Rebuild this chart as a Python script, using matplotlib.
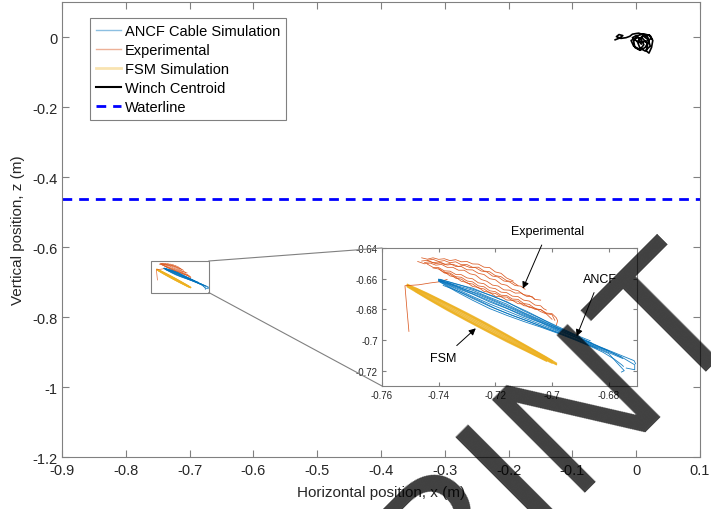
import matplotlib
matplotlib.use("Agg")
import matplotlib.pyplot as plt
from matplotlib.lines import Line2D
from matplotlib.patches import Rectangle, ConnectionPatch

plt.rcParams['font.family'] = ['Liberation Sans', 'DejaVu Sans']
plt.rcParams['axes.unicode_minus'] = False

# ---------------- data ----------------
main_xticks = [-0.9, -0.8, -0.7, -0.6, -0.5, -0.4, -0.3, -0.2, -0.1, 0, 0.1]
main_yticks = [-1.2, -1.0, -0.8, -0.6, -0.4, -0.2, 0]
inset_xticks = [-0.76, -0.74, -0.72, -0.70, -0.68]
inset_yticks = [-0.72, -0.70, -0.68, -0.66, -0.64]

waterline_z = -0.463

ancf_x = [
    [-0.740, -0.734, -0.728, -0.722, -0.716, -0.710, -0.704, -0.698, -0.692],
    [-0.740, -0.734, -0.728, -0.722, -0.716, -0.710, -0.704, -0.698, -0.692, -0.686],
    [-0.740, -0.734, -0.728, -0.722, -0.716, -0.710, -0.704, -0.698, -0.692, -0.686, -0.680],
    [-0.740, -0.734, -0.728, -0.722, -0.716, -0.710, -0.704, -0.698, -0.692, -0.686, -0.680, -0.675, -0.6708, -0.6708, -0.6738],
    [-0.740, -0.734, -0.728, -0.722, -0.716, -0.710, -0.704, -0.698, -0.692, -0.686, -0.680, -0.675],
    [-0.740, -0.734, -0.728, -0.722, -0.716, -0.710, -0.704, -0.698, -0.692, -0.686, -0.680, -0.677, -0.6745, -0.6755],
    [-0.740, -0.734, -0.728, -0.722, -0.716, -0.710, -0.704, -0.698, -0.692, -0.686, -0.682, -0.678, -0.6755, -0.6748],
    [-0.737, -0.731, -0.725, -0.719, -0.713, -0.707, -0.701, -0.695, -0.689, -0.683, -0.677, -0.671, -0.6705],
    [-0.7384, -0.732, -0.726, -0.720, -0.714, -0.708, -0.702, -0.696, -0.690, -0.684],
    [-0.7395, -0.733, -0.727, -0.721, -0.715, -0.709, -0.703, -0.697, -0.691, -0.6865],
    [-0.739, -0.733, -0.727, -0.721, -0.715, -0.709, -0.703, -0.697, -0.691, -0.685, -0.679, -0.6755],
]
ancf_y = [
    [-0.6603, -0.6635, -0.6662, -0.6708, -0.6750, -0.6810, -0.6860, -0.6918, -0.6965],
    [-0.6606, -0.6643, -0.6676, -0.6722, -0.6766, -0.6821, -0.6869, -0.6924, -0.6970, -0.7020],
    [-0.6608, -0.6649, -0.6690, -0.6735, -0.6782, -0.6831, -0.6880, -0.6929, -0.6978, -0.7024, -0.7070],
    [-0.6610, -0.6659, -0.6701, -0.6752, -0.6794, -0.6845, -0.6887, -0.6938, -0.6981, -0.7031, -0.7074, -0.7116, -0.7162, -0.7194, -0.7183],
    [-0.6612, -0.6665, -0.6716, -0.6765, -0.6810, -0.6855, -0.6898, -0.6943, -0.6988, -0.7034, -0.7082, -0.7121],
    [-0.6615, -0.6674, -0.6729, -0.6780, -0.6825, -0.6867, -0.6907, -0.6950, -0.6994, -0.7040, -0.7088, -0.7150, -0.7200, -0.7209],
    [-0.6617, -0.6682, -0.6741, -0.6795, -0.6839, -0.6879, -0.6916, -0.6956, -0.6999, -0.7045, -0.7080, -0.7125, -0.7160, -0.7172],
    [-0.6625, -0.6668, -0.6705, -0.6752, -0.6800, -0.6850, -0.6898, -0.6945, -0.6995, -0.7045, -0.7090, -0.7135, -0.7155],
    [-0.6644, -0.6690, -0.6740, -0.6795, -0.6840, -0.6880, -0.6925, -0.6965, -0.7010, -0.7055],
    [-0.6604, -0.6638, -0.6675, -0.6712, -0.6762, -0.6812, -0.6868, -0.6920, -0.6972, -0.7005],
    [-0.6616, -0.6660, -0.6706, -0.6752, -0.6800, -0.6846, -0.6892, -0.6940, -0.6985, -0.7032, -0.7080, -0.7110],
]

exp_x = [
    [-0.746, -0.744, -0.742, -0.740, -0.738, -0.736, -0.734, -0.732, -0.730, -0.728, -0.726, -0.724, -0.722, -0.720, -0.718, -0.716, -0.7137],
    [-0.745, -0.743, -0.741, -0.739, -0.737, -0.735, -0.733, -0.731, -0.729, -0.727, -0.725, -0.723, -0.721, -0.719, -0.717, -0.715, -0.713, -0.711, -0.7095],
    [-0.7474, -0.745, -0.743, -0.741, -0.739, -0.737, -0.735, -0.733, -0.731, -0.729, -0.727, -0.725, -0.723, -0.721, -0.719, -0.717, -0.715, -0.713, -0.711, -0.709, -0.707, -0.7061],
    [-0.742, -0.740, -0.738, -0.736, -0.734, -0.732, -0.730, -0.728, -0.726, -0.724, -0.722, -0.720, -0.718, -0.716, -0.714, -0.712, -0.710, -0.708, -0.706, -0.704, -0.702, -0.700, -0.6985, -0.698, -0.6985],
    [-0.744, -0.742, -0.740, -0.738, -0.736, -0.734, -0.732, -0.730, -0.728, -0.726, -0.724, -0.722, -0.720, -0.718, -0.716, -0.714, -0.712, -0.710, -0.708, -0.706, -0.704, -0.703, -0.702],
    [-0.746, -0.744, -0.742, -0.740, -0.738, -0.736, -0.734, -0.732, -0.730, -0.728, -0.726, -0.724, -0.722, -0.720, -0.718, -0.716, -0.714, -0.712, -0.710, -0.708, -0.706, -0.704],
    [-0.740, -0.738, -0.736, -0.734, -0.732, -0.730, -0.728, -0.726, -0.724, -0.722, -0.720, -0.718, -0.716, -0.714, -0.712, -0.710, -0.708, -0.706, -0.704, -0.702, -0.700, -0.699],
    [-0.744, -0.742, -0.740, -0.738, -0.736, -0.734, -0.732, -0.730, -0.728, -0.726, -0.724, -0.722, -0.720, -0.718, -0.716, -0.714, -0.712],
    [-0.738, -0.736, -0.734, -0.732, -0.730, -0.728, -0.726, -0.724, -0.722, -0.720, -0.718, -0.716, -0.714, -0.712, -0.710, -0.708, -0.706, -0.704, -0.702, -0.700],
    [-0.7505, -0.7512, -0.7519, -0.7470, -0.7430, -0.7396, -0.7370],
]
exp_y = [
    [-0.6464, -0.6473, -0.6464, -0.6474, -0.6470, -0.6482, -0.6476, -0.6490, -0.6488, -0.6504, -0.6505, -0.6525, -0.6528, -0.6556, -0.6565, -0.6596, -0.6615],
    [-0.6495, -0.6489, -0.6502, -0.6496, -0.6511, -0.6506, -0.6520, -0.6513, -0.6527, -0.6528, -0.6550, -0.6556, -0.6583, -0.6589, -0.6615, -0.6621, -0.6645, -0.6649, -0.6669],
    [-0.6488, -0.6503, -0.6498, -0.6512, -0.6507, -0.6526, -0.6526, -0.6545, -0.6545, -0.6568, -0.6576, -0.6605, -0.6617, -0.6642, -0.6648, -0.6673, -0.6675, -0.6694, -0.6693, -0.6715, -0.6717, -0.6735],
    [-0.6530, -0.6537, -0.6563, -0.6570, -0.6597, -0.6603, -0.6629, -0.6635, -0.6661, -0.6667, -0.6693, -0.6696, -0.6718, -0.6720, -0.6743, -0.6747, -0.6776, -0.6781, -0.6800, -0.6801, -0.6824, -0.6828, -0.6855, -0.6875, -0.6905],
    [-0.6505, -0.6526, -0.6528, -0.6549, -0.6551, -0.6572, -0.6574, -0.6595, -0.6601, -0.6627, -0.6633, -0.6659, -0.6665, -0.6688, -0.6691, -0.6714, -0.6717, -0.6740, -0.6746, -0.6772, -0.6777, -0.6795, -0.6805],
    [-0.6485, -0.6480, -0.6496, -0.6491, -0.6507, -0.6502, -0.6520, -0.6521, -0.6542, -0.6543, -0.6565, -0.6573, -0.6600, -0.6607, -0.6635, -0.6643, -0.6670, -0.6678, -0.6705, -0.6710, -0.6735, -0.6740],
    [-0.6535, -0.6559, -0.6563, -0.6587, -0.6591, -0.6615, -0.6621, -0.6647, -0.6653, -0.6679, -0.6685, -0.6708, -0.6710, -0.6733, -0.6735, -0.6762, -0.6768, -0.6795, -0.6802, -0.6828, -0.6835, -0.6872],
    [-0.6480, -0.6474, -0.6488, -0.6482, -0.6496, -0.6490, -0.6509, -0.6508, -0.6526, -0.6525, -0.6550, -0.6555, -0.6580, -0.6587, -0.6613, -0.6620, -0.6645],
    [-0.6555, -0.6582, -0.6590, -0.6617, -0.6625, -0.6651, -0.6657, -0.6683, -0.6689, -0.6715, -0.6717, -0.6739, -0.6741, -0.6763, -0.6765, -0.6788, -0.6792, -0.6815, -0.6830, -0.6865],
    [-0.6944, -0.6800, -0.6646, -0.6640, -0.6628, -0.6620, -0.6605],
]

fsm_x = [
    [-0.751, -0.744, -0.737, -0.730, -0.723, -0.716, -0.709, -0.702, -0.6985],
    [-0.751, -0.744, -0.737, -0.730, -0.723, -0.716, -0.709, -0.702],
    [-0.751, -0.744, -0.737, -0.730, -0.723, -0.716, -0.709, -0.702, -0.6985],
    [-0.751, -0.744, -0.737, -0.730, -0.723, -0.716, -0.709, -0.702, -0.6985],
    [-0.751, -0.744, -0.737, -0.730, -0.723, -0.716, -0.709, -0.702],
    [-0.751, -0.744, -0.737, -0.730, -0.723, -0.716, -0.709, -0.702],
    [-0.748, -0.741, -0.734, -0.727, -0.720, -0.713, -0.706, -0.700],
    [-0.748, -0.741, -0.734, -0.727, -0.720, -0.713, -0.706, -0.700],
]
fsm_y = [
    [-0.6638, -0.6696, -0.6760, -0.6825, -0.6893, -0.6965, -0.7038, -0.7112, -0.7151],
    [-0.6641, -0.6703, -0.6768, -0.6835, -0.6903, -0.6974, -0.7045, -0.7117],
    [-0.6644, -0.6709, -0.6777, -0.6845, -0.6913, -0.6983, -0.7052, -0.7122, -0.7157],
    [-0.6647, -0.6717, -0.6787, -0.6855, -0.6923, -0.6992, -0.7059, -0.7127, -0.7160],
    [-0.6650, -0.6724, -0.6796, -0.6865, -0.6933, -0.7001, -0.7066, -0.7132],
    [-0.6653, -0.6731, -0.6805, -0.6875, -0.6943, -0.7010, -0.7073, -0.7137],
    [-0.6664, -0.6727, -0.6792, -0.6860, -0.6929, -0.7000, -0.7073, -0.7136],
    [-0.6684, -0.6759, -0.6830, -0.6900, -0.6967, -0.7032, -0.7097, -0.7150],
]

winch_x = [-0.033, -0.026, -0.021, -0.027, -0.031, -0.024, -0.016, -0.010, -0.006, 0.000,
           0.004, 0.012, 0.018, 0.020, 0.014, 0.006, -0.002, -0.004, 0.002, 0.012,
           0.022, 0.026, 0.024, 0.020, 0.016, 0.018, 0.010, 0.000, -0.008, -0.004,
           0.006, 0.012, 0.008, 0.000, -0.006, 0.004, 0.016, 0.024, 0.020, 0.010,
           0.002, 0.006, 0.014, 0.022, 0.019, 0.011, 0.004, 0.008]
winch_y = [-0.008, -0.003, 0.004, 0.007, 0.001, -0.004, -0.002, 0.002, 0.008, 0.010,
           0.011, 0.006, 0.000, -0.012, -0.030, -0.038, -0.030, -0.012, 0.004, 0.009,
           0.004, -0.010, -0.030, -0.046, -0.040, -0.020, -0.004, -0.002, -0.010, -0.026,
           -0.036, -0.022, -0.008, 0.004, -0.002, -0.016, -0.012, -0.004, 0.006, 0.002,
           -0.014, -0.032, -0.040, -0.026, -0.008, 0.003, -0.006, -0.020]

zoom_box = (-0.76, -0.67, -0.73, -0.64)  # xmin, xmax, ymin, ymax

C_ANCF = '#0072BD'
C_EXP = '#D95319'
C_FSM = '#EDB120'
GRAY = '#808080'
TXT = '#262626'

W, H = 711, 510
fig = plt.figure(figsize=(W / 100, H / 100), dpi=100)


def fx(px):
    return px / W


def fy(py):
    return 1 - py / H


def draw_data(ax, lw_scale=1.0):
    for xs, ys in zip(fsm_x, fsm_y):
        ax.plot(xs, ys, color=C_FSM, lw=1.1 * lw_scale, alpha=0.85)
    for xs, ys in zip(exp_x, exp_y):
        ax.plot(xs, ys, color=C_EXP, lw=0.55 * lw_scale, alpha=0.95)
    for xs, ys in zip(ancf_x, ancf_y):
        ax.plot(xs, ys, color=C_ANCF, lw=0.6 * lw_scale, alpha=0.9)


def style(ax, fs, ticklen):
    for s in ax.spines.values():
        s.set_color(GRAY)
        s.set_linewidth(0.8)
    ax.tick_params(direction='in', which='both', top=True, right=True,
                   length=ticklen, width=0.8, color=GRAY, labelsize=fs,
                   labelcolor=TXT)


# ---------------- main axes ----------------
ax = fig.add_axes([fx(62), fy(458), (700 - 62) / W, (458 - 3) / H])
ax.set_xlim(-0.9, 0.1)
ax.set_ylim(-1.2, 0.1)
draw_data(ax, 0.8)
ax.plot(winch_x, winch_y, color='black', lw=1.2)
ax.axhline(waterline_z, color='#0000FF', lw=2, ls=(0, (3.5, 2.5)))
ax.add_patch(Rectangle((zoom_box[0], zoom_box[2]), zoom_box[1] - zoom_box[0],
                       zoom_box[3] - zoom_box[2], fill=False, ec=GRAY, lw=0.8))
ax.set_xticks(main_xticks)
ax.set_yticks(main_yticks)
ax.set_xticklabels(['%g' % round(v, 2) for v in main_xticks])
ax.set_yticklabels(['%g' % round(v, 2) for v in main_yticks])
style(ax, 10.5, 5)
ax.tick_params(axis='x', pad=4)
ax.set_xlabel('Horizontal position, x (m)', fontsize=11, color=TXT)
ax.set_ylabel('Vertical position, z (m)', fontsize=11, color=TXT)
ax.xaxis.set_label_coords(0.5, -0.062)
ax.yaxis.set_label_coords(-0.058, 0.5)

handles = [
    Line2D([], [], color=C_ANCF, lw=1, alpha=0.45),
    Line2D([], [], color=C_EXP, lw=1, alpha=0.45),
    Line2D([], [], color=C_FSM, lw=2, alpha=0.35),
    Line2D([], [], color='black', lw=1.5),
    Line2D([], [], color='#0000FF', lw=2, ls=(0, (3.5, 2.5))),
]
labels = ['ANCF Cable Simulation', 'Experimental', 'FSM Simulation',
          'Winch Centroid', 'Waterline']
leg = ax.legend(handles, labels, loc='upper left',
                bbox_to_anchor=((90 - 62) / 638, (458 - 19) / 455),
                borderaxespad=0, fontsize=10.5, frameon=True, fancybox=False,
                framealpha=1, edgecolor=GRAY, handlelength=1.75,
                handletextpad=0.25, labelspacing=0.35, borderpad=0.4)
leg.get_frame().set_linewidth(0.8)
for t in leg.get_texts():
    t.set_color('black')

# ---------------- inset axes ----------------
axi = fig.add_axes([fx(382), fy(387), (637 - 382) / W, (387 - 249) / H])
axi.set_xlim(zoom_box[0], zoom_box[1])
axi.set_ylim(zoom_box[2], zoom_box[3])
draw_data(axi, 1.0)
axi.set_xticks(inset_xticks)
axi.set_yticks(inset_yticks)
axi.set_xticklabels(['%g' % v for v in inset_xticks])
axi.set_yticklabels(['%g' % v for v in inset_yticks])
style(axi, 7, 3)
axi.tick_params(pad=3)

ann_kw = dict(fontsize=9, color='black', ha='center', va='center',
              annotation_clip=False,
              arrowprops=dict(arrowstyle='-|>', color='black', lw=0.7,
                              mutation_scale=10, shrinkA=4, shrinkB=0))
axi.annotate('Experimental', xy=(-0.7103, -0.6665), xytext=(-0.7015, -0.6290), **ann_kw)
axi.annotate('ANCF', xy=(-0.6913, -0.6976), xytext=(-0.6832, -0.6600), **ann_kw)
axi.annotate('FSM', xy=(-0.7269, -0.6924), xytext=(-0.7385, -0.7118), **ann_kw)

for yv in (zoom_box[3], zoom_box[2]):
    cp = ConnectionPatch(xyA=(zoom_box[1], yv), coordsA=ax.transData,
                         xyB=(zoom_box[0], yv), coordsB=axi.transData,
                         color=GRAY, lw=0.8)
    fig.add_artist(cp)

# ---------------- watermark ----------------
wm_kw = dict(fontsize=138, color='black', alpha=0.75, rotation=45,
             rotation_mode='anchor', va='baseline', family='Liberation Sans',
             zorder=10)
fig.text(fx(569), fy(493), 'NT', ha='left', **wm_kw)
fig.text(fx(569), fy(493), 'PREPRI', ha='right', **wm_kw)

fig.savefig('out.png', dpi=100)
